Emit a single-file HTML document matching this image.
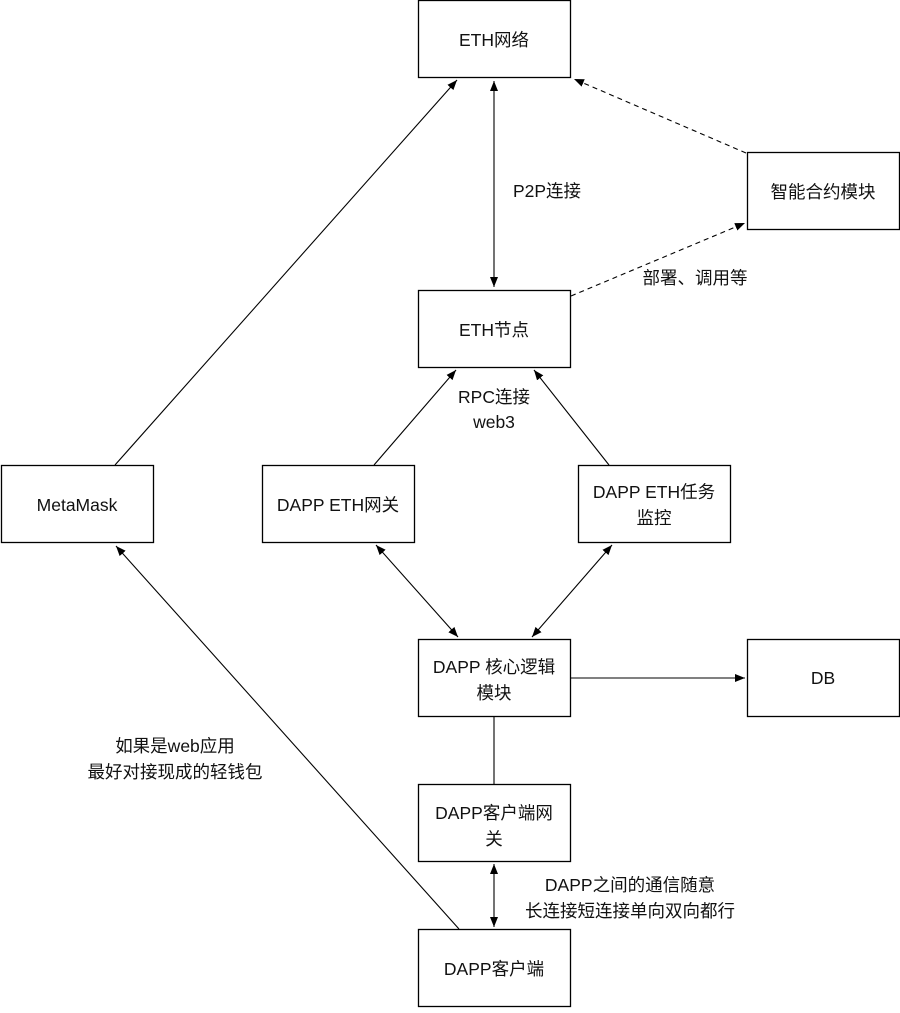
<!DOCTYPE html>
<html><head><meta charset="utf-8"><style>
html,body{margin:0;padding:0;background:#fff;}
svg text{font-family:"Liberation Sans","Noto Sans CJK SC",sans-serif;font-size:17.5px;fill:#111;text-anchor:middle;}
</style></head><body>
<svg width="900" height="1008" viewBox="0 0 900 1008" xmlns="http://www.w3.org/2000/svg">
<defs>
<marker id="a" viewBox="0 0 10 10" refX="10" refY="5" markerWidth="10" markerHeight="10" orient="auto-start-reverse" markerUnits="userSpaceOnUse"><path d="M0,1 L10,5 L0,9 Z" fill="#000"/></marker>
</defs>
<g fill="#fff" stroke="#000" stroke-width="1.3">
<rect x="418.5" y="0.5" width="152" height="77"/>
<rect x="747.5" y="152.5" width="152" height="77"/>
<rect x="418.5" y="290.5" width="152" height="77"/>
<rect x="1.5" y="465.5" width="152" height="77"/>
<rect x="262.5" y="465.5" width="152" height="77"/>
<rect x="578.5" y="465.5" width="152" height="77"/>
<rect x="418.5" y="639.5" width="152" height="77"/>
<rect x="747.5" y="639.5" width="152" height="77"/>
<rect x="418.5" y="784.5" width="152" height="77"/>
<rect x="418.5" y="929.5" width="152" height="77"/>
</g>
<g stroke="#000" stroke-width="1.1" fill="none">
<line x1="494" y1="81" x2="494" y2="287" marker-start="url(#a)" marker-end="url(#a)"/>
<line x1="746" y1="153" x2="574" y2="79" stroke-dasharray="5,4" marker-end="url(#a)"/>
<line x1="571" y1="296" x2="745" y2="223" stroke-dasharray="5,4" marker-end="url(#a)"/>
<line x1="115" y1="465" x2="457" y2="80" marker-end="url(#a)"/>
<line x1="374" y1="465" x2="456" y2="370" marker-end="url(#a)"/>
<line x1="609" y1="465" x2="534" y2="370" marker-end="url(#a)"/>
<line x1="376" y1="545" x2="458" y2="637" marker-start="url(#a)" marker-end="url(#a)"/>
<line x1="612" y1="545" x2="532" y2="637" marker-start="url(#a)" marker-end="url(#a)"/>
<line x1="571" y1="678" x2="745" y2="678" marker-end="url(#a)"/>
<line x1="494" y1="717" x2="494" y2="784"/>
<line x1="494" y1="864" x2="494" y2="927" marker-start="url(#a)" marker-end="url(#a)"/>
<line x1="459" y1="929" x2="116" y2="546" marker-end="url(#a)"/>
</g>
<text x="494" y="46">ETH网络</text>
<text x="823" y="198">智能合约模块</text>
<text x="494" y="336">ETH节点</text>
<text x="547" y="197">P2P连接</text>
<text x="695" y="284">部署、调用等</text>
<text x="494" y="403">RPC连接</text>
<text x="494" y="428">web3</text>
<text x="77" y="511">MetaMask</text>
<text x="338" y="511">DAPP ETH网关</text>
<text x="654" y="498">DAPP ETH任务</text>
<text x="654" y="524">监控</text>
<text x="494" y="673">DAPP 核心逻辑</text>
<text x="494" y="699">模块</text>
<text x="823" y="684">DB</text>
<text x="175" y="752">如果是web应用</text>
<text x="175" y="778">最好对接现成的轻钱包</text>
<text x="494" y="819">DAPP客户端网</text>
<text x="494" y="845">关</text>
<text x="630" y="891">DAPP之间的通信随意</text>
<text x="630" y="917">长连接短连接单向双向都行</text>
<text x="494" y="975">DAPP客户端</text>
</svg>
</body></html>
